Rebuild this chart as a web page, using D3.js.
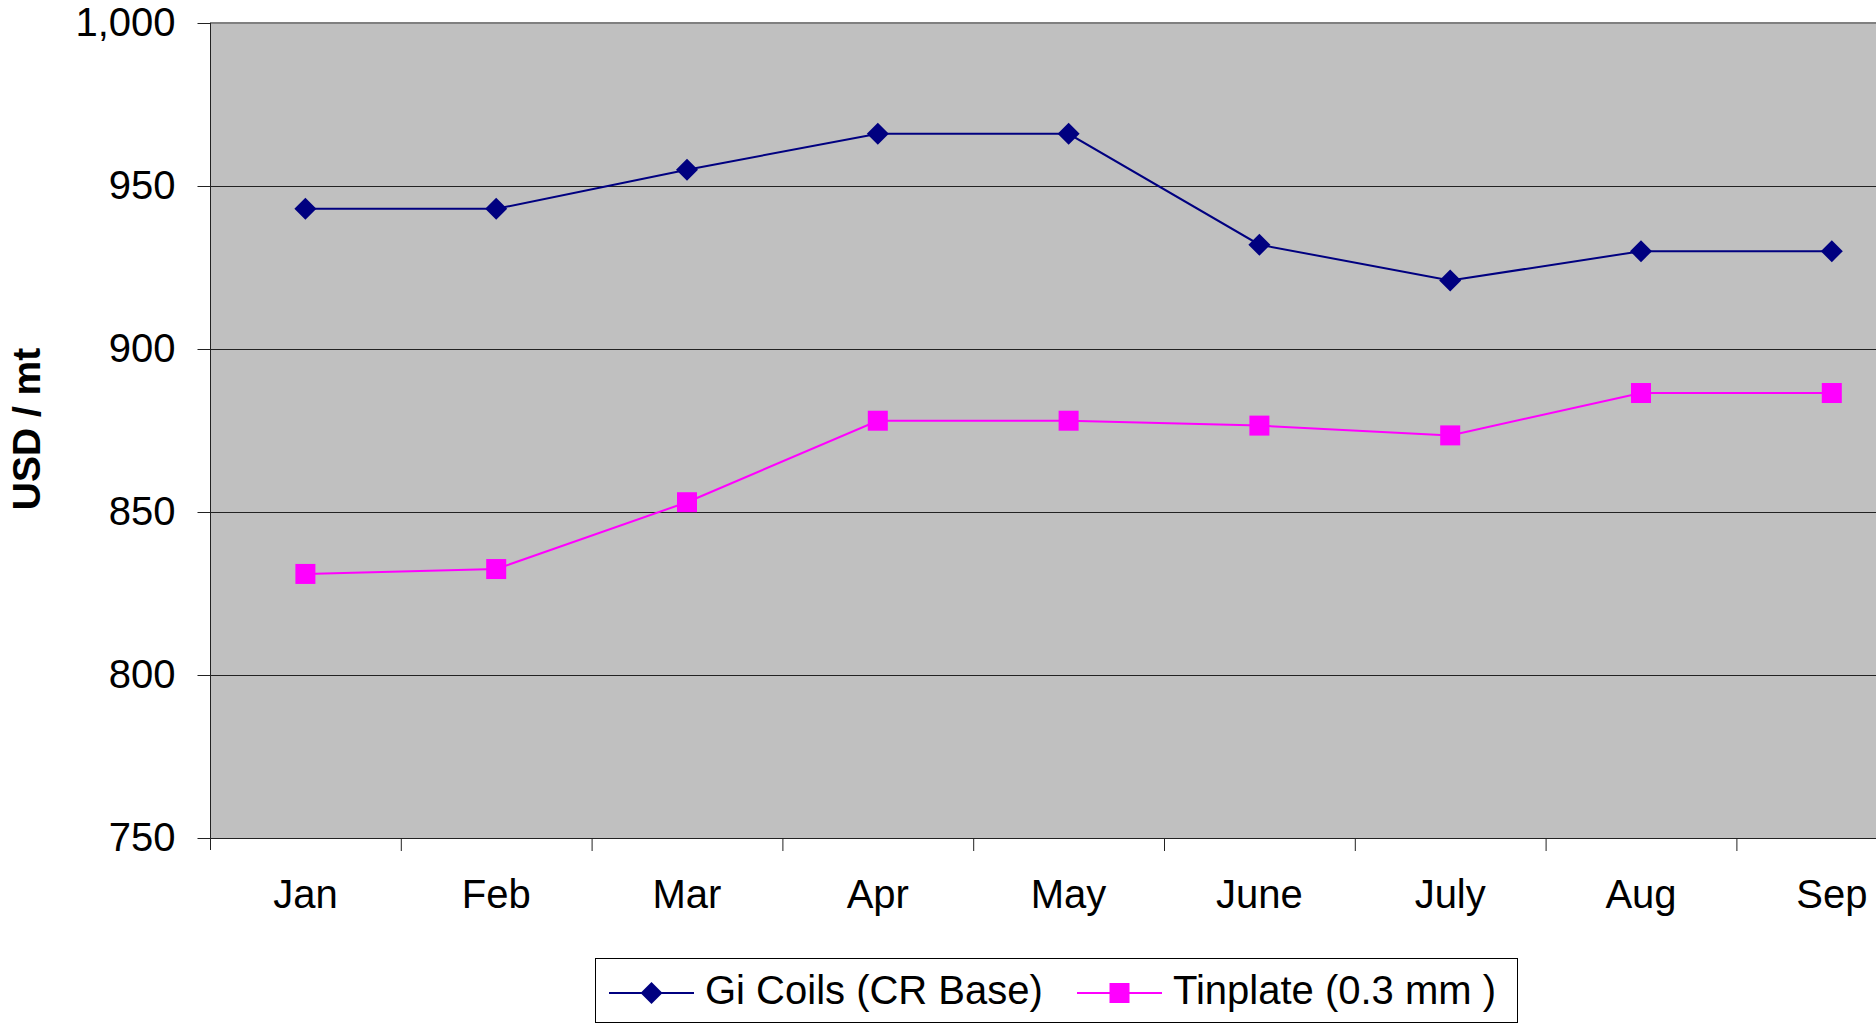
<!DOCTYPE html>
<html>
<head>
<meta charset="utf-8">
<script src="https://cdn.jsdelivr.net/npm/d3@7"></script>
<style>
  body { margin: 0; background: #fff; }
  svg { display: block; font-family: Arial, "Liberation Sans", sans-serif; }
</style>
</head>
<body>
<div id="chart"></div>
<script>
// chart data
const months = ['Jan', 'Feb', 'Mar', 'Apr', 'May', 'June', 'July', 'Aug', 'Sep'];
const giCoils = [943, 943, 955, 966, 966, 932, 921, 930, 930];
const tinplate = [831, 832.5, 853, 878, 878, 876.5, 873.5, 886.5, 886.5];
const yTicks = [750, 800, 850, 900, 950, 1000];
const seriesNames = ['Gi Coils (CR Base)', 'Tinplate (0.3 mm )'];

const width = 1876, height = 1027;
const plotLeft = 210, plotTop = 23, plotBottom = 838;
const step = 190.8; // width of one category

const svg = d3.select('#chart').append('svg')
    .attr('width', width)
    .attr('height', height);

const x = d3.scaleBand()
    .domain(months)
    .range([plotLeft, plotLeft + step * months.length])
    .padding(0);

const y = d3.scaleLinear()
    .domain([750, 1000])
    .range([plotBottom, plotTop]);

const cx = d => x(d) + x.bandwidth() / 2;

// plot background
svg.append('rect')
    .attr('x', plotLeft)
    .attr('y', plotTop)
    .attr('width', step * months.length)
    .attr('height', plotBottom - plotTop)
    .attr('fill', '#c0c0c0');

// gridlines
svg.append('g')
    .selectAll('line')
    .data(yTicks.filter(t => t > 750 && t < 1000))
    .enter()
    .append('line')
    .attr('x1', plotLeft)
    .attr('x2', width)
    .attr('y1', d => y(d) + 0.5)
    .attr('y2', d => y(d) + 0.5)
    .attr('stroke', '#222')
    .attr('stroke-width', 1);

// top border
svg.append('line')
    .attr('x1', plotLeft).attr('x2', width)
    .attr('y1', plotTop).attr('y2', plotTop)
    .attr('stroke', '#808080')
    .attr('stroke-width', 2);

// y axis
const yAxis = svg.append('g')
    .attr('transform', `translate(${plotLeft + 0.5},0)`)
    .call(d3.axisLeft(y).tickValues(yTicks).tickFormat(d3.format(',')).tickSize(13).tickPadding(22));
yAxis.select('.domain').attr('stroke', '#222').attr('d', `M0,${plotTop}V${plotBottom + 12}`);
yAxis.selectAll('.tick line').attr('stroke', '#222');
yAxis.selectAll('.tick text')
    .attr('font-size', 40)
    .attr('font-family', 'Arial, "Liberation Sans", sans-serif')
    .attr('fill', '#000');

// x axis line and category boundary ticks
svg.append('line')
    .attr('x1', plotLeft).attr('x2', width)
    .attr('y1', plotBottom + 0.5).attr('y2', plotBottom + 0.5)
    .attr('stroke', '#222');

svg.append('g')
    .selectAll('line')
    .data(months.slice(1))
    .enter()
    .append('line')
    .attr('x1', d => x(d) + 0.5)
    .attr('x2', d => x(d) + 0.5)
    .attr('y1', plotBottom)
    .attr('y2', plotBottom + 13)
    .attr('stroke', '#222');

svg.append('g')
    .selectAll('text')
    .data(months)
    .enter()
    .append('text')
    .attr('x', cx)
    .attr('y', 908)
    .attr('text-anchor', 'middle')
    .attr('font-size', 40)
    .text(d => d);

// y axis title
svg.append('text')
    .attr('transform', 'translate(40,429) rotate(-90)')
    .attr('text-anchor', 'middle')
    .attr('font-size', 39)
    .attr('font-weight', 'bold')
    .text('USD / mt');

// lines
const line = d3.line()
    .x((d, i) => cx(months[i]))
    .y(d => y(d));

svg.append('path')
    .datum(giCoils)
    .attr('d', line)
    .attr('fill', 'none')
    .attr('stroke', '#000080')
    .attr('stroke-width', 2);

svg.append('path')
    .datum(tinplate)
    .attr('d', line)
    .attr('fill', 'none')
    .attr('stroke', '#ff00ff')
    .attr('stroke-width', 2);

// markers
const diamond = 'M0,-11L11,0L0,11L-11,0Z';

svg.append('g')
    .selectAll('path')
    .data(giCoils)
    .enter()
    .append('path')
    .attr('d', diamond)
    .attr('transform', (d, i) => `translate(${cx(months[i])},${y(d)})`)
    .attr('fill', '#000080');

svg.append('g')
    .selectAll('rect')
    .data(tinplate)
    .enter()
    .append('rect')
    .attr('x', (d, i) => cx(months[i]) - 10)
    .attr('y', d => y(d) - 10)
    .attr('width', 20)
    .attr('height', 20)
    .attr('fill', '#ff00ff');

// legend
const legend = svg.append('g');
legend.append('rect')
    .attr('x', 595.5).attr('y', 958.5)
    .attr('width', 922).attr('height', 64)
    .attr('fill', '#fff')
    .attr('stroke', '#000')
    .attr('stroke-width', 1);

const legendItems = [
    { name: seriesNames[0], color: '#000080', shape: 'diamond', x0: 609, x1: 694, tx: 705 },
    { name: seriesNames[1], color: '#ff00ff', shape: 'square', x0: 1077, x1: 1162, tx: 1173 }
];
const ly = 993;

legendItems.forEach(item => {
    legend.append('line')
        .attr('x1', item.x0).attr('x2', item.x1)
        .attr('y1', ly).attr('y2', ly)
        .attr('stroke', item.color)
        .attr('stroke-width', 2);
    const mx = (item.x0 + item.x1) / 2;
    if (item.shape === 'diamond') {
        legend.append('path')
            .attr('d', diamond)
            .attr('transform', `translate(${mx},${ly})`)
            .attr('fill', item.color);
    } else {
        legend.append('rect')
            .attr('x', mx - 10).attr('y', ly - 10)
            .attr('width', 20).attr('height', 20)
            .attr('fill', item.color);
    }
    legend.append('text')
        .attr('x', item.tx)
        .attr('y', 1004)
        .attr('font-size', 40)
        .text(item.name);
});
</script>
</body>
</html>
